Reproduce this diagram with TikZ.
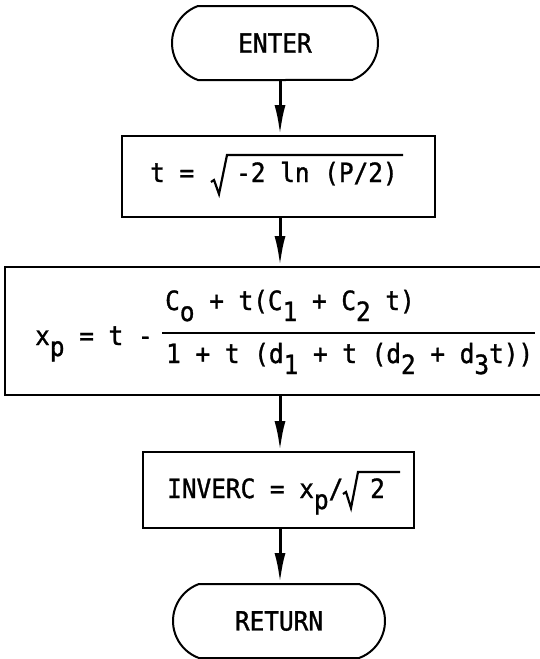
\documentclass[tikz,border=0pt]{standalone}
\usepackage{fontspec}
\setmainfont{DejaVu Sans Mono}[FakeStretch=0.92,FakeBold=1.2]
\usetikzlibrary{arrows.meta,shapes.misc}
\newcommand{\lo}[1]{\raisebox{-11pt}{#1}}
\begin{document}
\begin{tikzpicture}[x=1pt,y=-1pt,
  every node/.style={font=\fontsize{26.5}{30}\selectfont},
  term/.style={draw,line width=2pt,rounded rectangle,rounded rectangle arc length=140,inner sep=0pt},
  proc/.style={draw,line width=2pt,rectangle,inner sep=0pt},
  txt/.style={inner sep=0pt,anchor=base west},
  rad/.style={line width=2.2pt,line join=miter},
  bar/.style={line width=2pt},
  flow/.style={line width=3pt,-{Latex[length=30pt,width=11pt]}}]
\useasboundingbox (0,0) rectangle (540,659);
\coordinate (ax) at (280,0);
% ENTER
\node[term,minimum width=206pt,minimum height=74pt] (enter) at (275,43) {ENTER};
% t = sqrt(-2 ln(P/2))
\node[proc,minimum width=313pt,minimum height=81pt] (t) at (278.5,176.5) {};
\node[txt] (tlhs) at (150,182) {t =};
\node[txt] (targ) at (236,182) {-2 ln (P/2)};
\draw[rad] (211,182) -- (214,180) -- (219,194) -- (227,155) -- (403,155);
% x_p formula
\node[proc,minimum width=538pt,minimum height=128pt] (x) at (274,331) {};
\node[txt] (xlhs) at (35,345) {x\lo{p} = t -};
\node[txt] (num) at (165,310) {C\lo{o} + t(C\lo{1} + C\lo{2} t)};
\draw[bar] (162,333) -- (535,333);
\node[txt] (den) at (166,363) {1 + t (d\lo{1} + t (d\lo{2} + d\lo{3}t))};
% INVERC
\node[proc,minimum width=271pt,minimum height=76pt] (inv) at (278.5,490) {};
\node[txt] (invl) at (167,498) {INVERC = x\lo{p}/};
\draw[rad] (343,494) -- (346,492) -- (351,508) -- (358,472) -- (400,472);
\node[txt] (two) at (370,498) {2};
% RETURN
\node[term,minimum width=212pt,minimum height=74pt] (ret) at (279,621) {RETURN};
% connectors
\draw[flow] (enter.south -| ax) -- (t.north -| ax);
\draw[flow] (t.south -| ax) -- (x.north -| ax);
\draw[flow] (x.south -| ax) -- (inv.north -| ax);
\draw[flow] (inv.south -| ax) -- (ret.north -| ax);
\end{tikzpicture}
\end{document}
